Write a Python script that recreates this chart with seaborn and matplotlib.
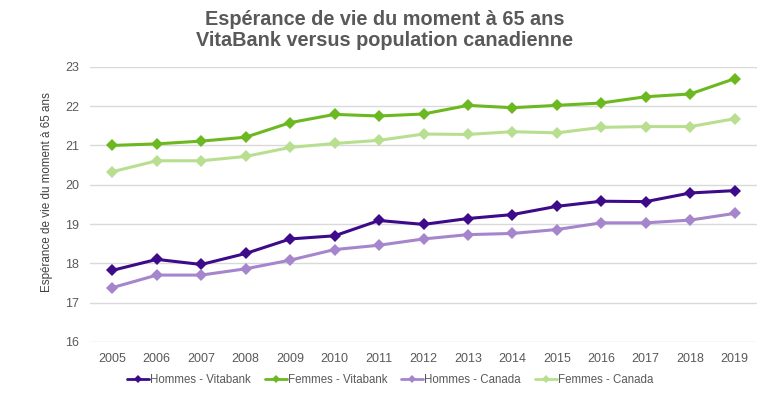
import numpy as np
import pandas as pd
import seaborn as sns
import matplotlib.pyplot as plt

# Values
years = list(range(2005, 2020))
hommes_vitabank = [17.82, 18.10, 17.97, 18.25, 18.62, 18.70, 19.09, 18.99, 19.14, 19.24, 19.45, 19.58, 19.57, 19.79, 19.85]
femmes_vitabank = [21.00, 21.04, 21.11, 21.21, 21.58, 21.79, 21.75, 21.80, 22.02, 21.96, 22.02, 22.08, 22.24, 22.31, 22.70]
hommes_canada = [17.38, 17.70, 17.70, 17.86, 18.08, 18.35, 18.46, 18.62, 18.73, 18.76, 18.86, 19.03, 19.03, 19.10, 19.27]
femmes_canada = [20.33, 20.61, 20.61, 20.72, 20.95, 21.05, 21.13, 21.29, 21.28, 21.35, 21.32, 21.46, 21.48, 21.48, 21.68]

series_names = ["Hommes - Vitabank", "Femmes - Vitabank", "Hommes - Canada", "Femmes - Canada"]
series_colors = ["#3d0a8a", "#6cb820", "#a586cc", "#b8df90"]

df = pd.DataFrame({
    "annee": years * 4,
    "valeur": hommes_vitabank + femmes_vitabank + hommes_canada + femmes_canada,
    "serie": np.repeat(series_names, len(years)),
})

sns.set_style("white")
plt.rcParams["font.family"] = ["Liberation Sans", "DejaVu Sans"]
text_color = "#595959"

fig = plt.figure(figsize=(7.7, 3.98), dpi=100)
ax = fig.add_axes([0.117, 0.141, 0.866, 0.691])

sns.lineplot(data=df, x="annee", y="valeur", hue="serie", hue_order=series_names,
             palette=dict(zip(series_names, series_colors)), marker="D",
             markersize=6, markeredgewidth=0, linewidth=2.2, ax=ax, legend=False)

ax.set_xlim(2004.5, 2019.5)
ax.set_ylim(16, 23)
ax.set_xticks(years)
ax.set_yticks(range(16, 24))
ax.yaxis.grid(True, color="#d9d9d9", linewidth=1)
ax.xaxis.grid(False)
for s in ax.spines.values():
    s.set_visible(False)
ax.tick_params(axis="both", colors=text_color, labelsize=9, length=0, pad=8)
ax.set_xlabel("")
ax.set_ylabel("Espérance de vie du moment à 65 ans", color="#404040", fontsize=8.4,
              labelpad=8.5, y=0.545)

fig.suptitle("Espérance de vie du moment à 65 ans\nVitaBank versus population canadienne",
             x=0.5, y=0.975, fontsize=14.3, fontweight="bold", color=text_color, linespacing=1.15)

handles = [plt.Line2D([], [], color=c, marker="D", markersize=4, linewidth=2, markeredgewidth=0)
           for c in series_colors]
fig.legend(handles, series_names, loc="center", bbox_to_anchor=(0.507, 0.045), ncol=4,
           frameon=False, fontsize=8.3, handlelength=1.9, handletextpad=0.1, columnspacing=1.2,
           labelcolor=text_color)

fig.savefig("out.png", dpi=100)
